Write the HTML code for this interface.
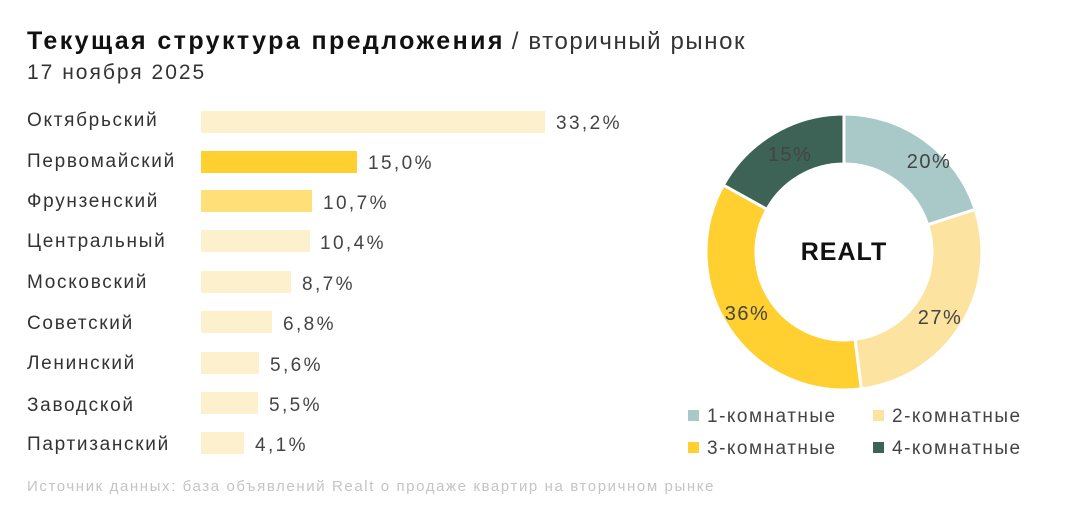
<!DOCTYPE html>
<html><head><meta charset="utf-8"><style>
body{margin:0;width:1080px;height:518px;background:#fff;font-family:"Liberation Sans","DejaVu Sans",sans-serif;position:relative;overflow:hidden;color:#333}
.t{position:absolute;white-space:nowrap}
.lab{position:absolute;left:27px;font-size:19px;color:#333;line-height:22px;letter-spacing:1.7px}
.bar{position:absolute;left:201px;height:22px}
.val{position:absolute;font-size:19px;color:#444;line-height:22px;letter-spacing:2.4px}
.lg{position:absolute;font-size:19px;color:#444;line-height:22px;letter-spacing:1.5px}
.sq{display:inline-block;width:11px;height:11px;margin-right:8px;vertical-align:1px}
</style></head><body>
<div class="t" style="left:27px;top:27px;font-size:25px;color:#111"><b style="letter-spacing:2.4px">Текущая структура предложения</b> <span style="font-size:24px;color:#333;letter-spacing:1.6px">/ вторичный рынок</span></div>
<div class="t" style="left:27px;top:61px;font-size:21px;color:#333;letter-spacing:2px">17 ноября 2025</div>

<div class="lab" style="top:110px">Октябрьский</div>
<div class="bar" style="top:111px;width:344px;background:#fdf0cc"></div>
<div class="val" style="left:556px;top:113px">33,2%</div>

<div class="lab" style="top:151px">Первомайский</div>
<div class="bar" style="top:151px;width:156px;background:#ffd02f"></div>
<div class="val" style="left:368px;top:153px">15,0%</div>

<div class="lab" style="top:191px">Фрунзенский</div>
<div class="bar" style="top:190px;width:111px;background:#ffdf78"></div>
<div class="val" style="left:323px;top:193px">10,7%</div>

<div class="lab" style="top:231px">Центральный</div>
<div class="bar" style="top:230px;width:109px;background:#fdf0cc"></div>
<div class="val" style="left:320px;top:233px">10,4%</div>

<div class="lab" style="top:272px">Московский</div>
<div class="bar" style="top:271px;width:90px;background:#fdf0cc"></div>
<div class="val" style="left:302px;top:274px">8,7%</div>

<div class="lab" style="top:313px">Советский</div>
<div class="bar" style="top:311px;width:71px;background:#fdf0cc"></div>
<div class="val" style="left:283px;top:314px">6,8%</div>

<div class="lab" style="top:353px">Ленинский</div>
<div class="bar" style="top:352px;width:58px;background:#fdf0cc"></div>
<div class="val" style="left:270px;top:355px">5,6%</div>

<div class="lab" style="top:395px">Заводской</div>
<div class="bar" style="top:392px;width:57px;background:#fdf0cc"></div>
<div class="val" style="left:269px;top:395px">5,5%</div>

<div class="lab" style="top:434px">Партизанский</div>
<div class="bar" style="top:432px;width:43px;background:#fdf0cc"></div>
<div class="val" style="left:255px;top:435px">4,1%</div>

<svg style="position:absolute;left:0;top:0" width="1080" height="518">
<g transform="translate(844,252)" stroke="#fff" stroke-width="3">
<path d="M0,-138 A138,138 0 0 1 131.2,-42.6 L83.7,-27.2 A88,88 0 0 0 0,-88 Z" fill="#a9c9c9"/>
<path d="M131.2,-42.6 A138,138 0 0 1 17.3,136.9 L11,87.3 A88,88 0 0 0 83.7,-27.2 Z" fill="#fde3a0"/>
<path d="M17.3,136.9 A138,138 0 0 1 -120.7,-66.9 L-77,-42.7 A88,88 0 0 0 11,87.3 Z" fill="#ffd02f"/>
<path d="M-120.7,-66.9 A138,138 0 0 1 0,-138 L0,-88 A88,88 0 0 0 -77,-42.7 Z" fill="#3d6356"/>
</g>
<g font-size="20" fill="#444" font-family="Liberation Sans, sans-serif" text-anchor="middle" letter-spacing="1.5">
<text x="929" y="168">20%</text>
<text x="940" y="324">27%</text>
<text x="747" y="320">36%</text>
<text x="790" y="161">15%</text>
</g>
<text x="844" y="260" text-anchor="middle" font-size="25" font-weight="bold" fill="#111" letter-spacing="1" font-family="Liberation Sans, sans-serif">REALT</text>
</svg>

<div class="lg" style="left:688px;top:406px"><span class="sq" style="background:#a9c9c9"></span>1-комнатные</div>
<div class="lg" style="left:873px;top:406px"><span class="sq" style="background:#fde3a0"></span>2-комнатные</div>
<div class="lg" style="left:688px;top:438px"><span class="sq" style="background:#ffd02f"></span>3-комнатные</div>
<div class="lg" style="left:873px;top:438px"><span class="sq" style="background:#3d6356"></span>4-комнатные</div>

<div class="t" style="left:27px;top:478px;font-size:15px;color:#c4c4c4;letter-spacing:1.6px">Источник данных: база объявлений Realt о продаже квартир на вторичном рынке</div>
</body></html>
